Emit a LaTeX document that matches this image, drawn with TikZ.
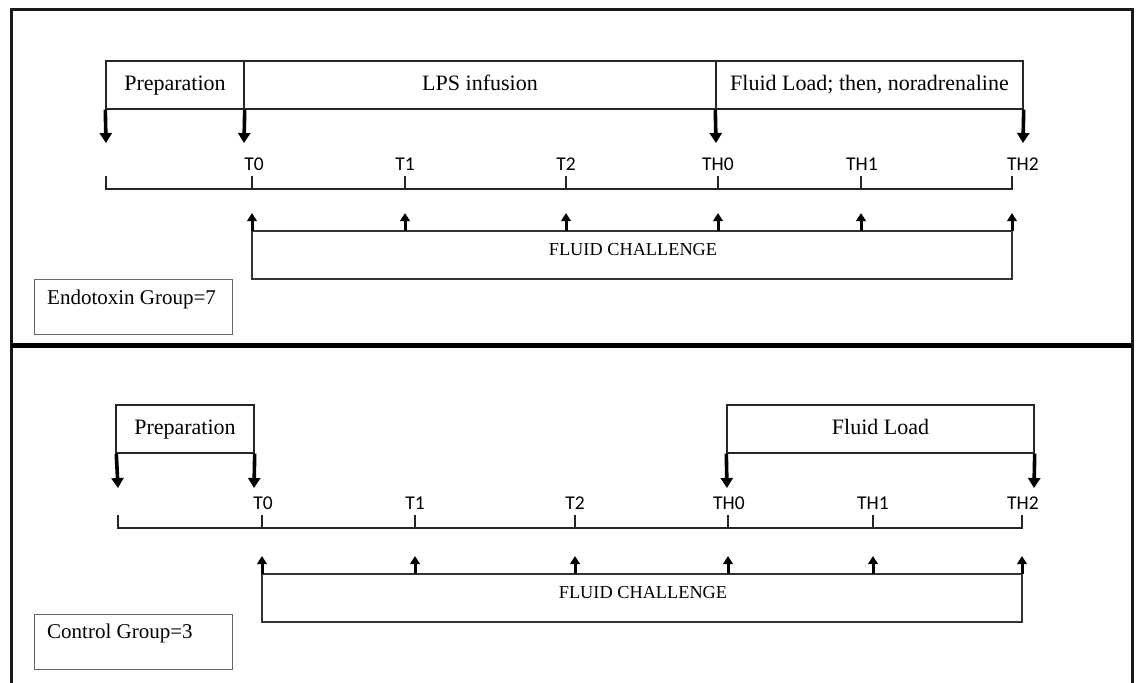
\documentclass[tikz,border=0pt]{standalone}
\usepackage{fontspec}
\setmainfont{Liberation Serif}
\newfontfamily\lblfont{Carlito}
\usetikzlibrary{arrows.meta}
\tikzset{
  x=1pt,y=-1pt,
  frame/.style={line width=3pt,black!90},
  divider/.style={line width=5pt,black},
  barbox/.style={draw,line width=1.4pt,black!85,text=black,rectangle,inner sep=0pt,minimum height=48pt,text height=15pt,text depth=4pt,font=\fontsize{22}{26}\selectfont},
  downarr/.style={line width=3.6pt,-{Triangle[width=12pt,length=10pt]}},
  uparr/.style={line width=3pt,-{Triangle[width=9.5pt,length=8pt]}},
  tlabel/.style={font=\lblfont\fontsize{19.5}{22}\selectfont,inner sep=0pt},
  timeline/.style={line width=2.3pt,black!85},
  fcbox/.style={draw,line width=1.7pt,black!80,rectangle,inner sep=0pt,minimum height=48pt},
  fctext/.style={font=\fontsize{18.3}{22}\selectfont,inner sep=0pt},
  groupbox/.style={draw,line width=1pt,black!60,rectangle,inner sep=0pt,minimum width=198pt,minimum height=55pt,anchor=north west},
  grouptext/.style={font=\fontsize{21}{24}\selectfont,inner sep=0pt,anchor=west}
}
\begin{document}
\begin{tikzpicture}
\useasboundingbox (0,0) rectangle (1136,683);
% frame
\coordinate (ftl) at (11,9);
\coordinate (ftr) at (1132,9);
\coordinate (fbl) at (11,683);
\coordinate (fbr) at (1132,683);
\coordinate (dl) at (11,345);
\coordinate (dr) at (1132,345);
\draw[frame] (fbl) -- (ftl) -- (ftr) -- (fbr);
\draw[divider] (dl) -- (dr);

% ===== Top panel =====
\node[barbox,minimum width=138pt] (aprep) at (175,85) {Preparation};
\node[barbox,minimum width=472pt] (alps) at (480,85) {LPS infusion};
\node[barbox,minimum width=307pt] (afl) at (869.5,85) {Fluid Load; then, noradrenaline};
\coordinate (ad0) at (106,143);
\coordinate (ad1) at (244,143);
\coordinate (ad2) at (716,143);
\coordinate (ad3) at (1023,143);
\draw[downarr] (aprep.south west) -- (ad0);
\draw[downarr] (aprep.south east) -- (ad1);
\draw[downarr] (afl.south west) -- (ad2);
\draw[downarr] (afl.south east) -- (ad3);

\node[tlabel] (aT0) at (254,164) {T0};
\node[tlabel] (aT1) at (405,164) {T1};
\node[tlabel] (aT2) at (566,164) {T2};
\node[tlabel] (aTH0) at (718,164) {TH0};
\node[tlabel] (aTH1) at (862,164) {TH1};
\node[tlabel] (aTH2) at (1023,164) {TH2};

\coordinate (al0) at (106,189);
\coordinate (al1) at (1012,189);
\draw[timeline] (106,176) -- (al0) -- (al1) -- (1012,176);
\foreach \x in {252,405,566,718,861}{\draw[timeline] (\x,176) -- (\x,189);}

\node[fcbox,minimum width=760pt] (afc) at (632,255) {};
\node[fctext] (afct) at (633,250) {FLUID CHALLENGE};
\foreach \x in {252,405,566,718,861,1012}{\draw[uparr] (\x,231) -- (\x,213);}

\node[groupbox] (agrp) at (34,279) {};
\node[grouptext] (agrpt) at (47,299) {Endotoxin Group=7};

% ===== Bottom panel =====
\node[barbox,minimum width=138pt] (bprep) at (185,429) {Preparation};
\node[barbox,minimum width=307pt] (bfl) at (880.5,429) {Fluid Load};
\coordinate (bd0) at (118,488);
\coordinate (bd1) at (254,488);
\coordinate (bd2) at (727,488);
\coordinate (bd3) at (1034,488);
\draw[downarr] ([xshift=1pt]bprep.south west) -- (bd0);
\draw[downarr] (bprep.south east) -- (bd1);
\draw[downarr] (bfl.south west) -- (bd2);
\draw[downarr] (bfl.south east) -- (bd3);

\node[tlabel] (bT0) at (263,503) {T0};
\node[tlabel] (bT1) at (415,503) {T1};
\node[tlabel] (bT2) at (575,503) {T2};
\node[tlabel] (bTH0) at (729,503) {TH0};
\node[tlabel] (bTH1) at (873,503) {TH1};
\node[tlabel] (bTH2) at (1023,503) {TH2};

\coordinate (bl0) at (118,528);
\coordinate (bl1) at (1022,528);
\draw[timeline] (118,515) -- (bl0) -- (bl1) -- (1022,515);
\foreach \x in {262,415,575,728,873}{\draw[timeline] (\x,515) -- (\x,528);}

\node[fcbox,minimum width=760pt] (bfc) at (642,598) {};
\node[fctext] (bfct) at (643,593) {FLUID CHALLENGE};
\foreach \x in {262,415,575,728,873,1022}{\draw[uparr] (\x,574) -- (\x,556);}

\node[groupbox] (bgrp) at (34,614) {};
\node[grouptext] (bgrpt) at (47,633) {Control Group=3};
\end{tikzpicture}
\end{document}
